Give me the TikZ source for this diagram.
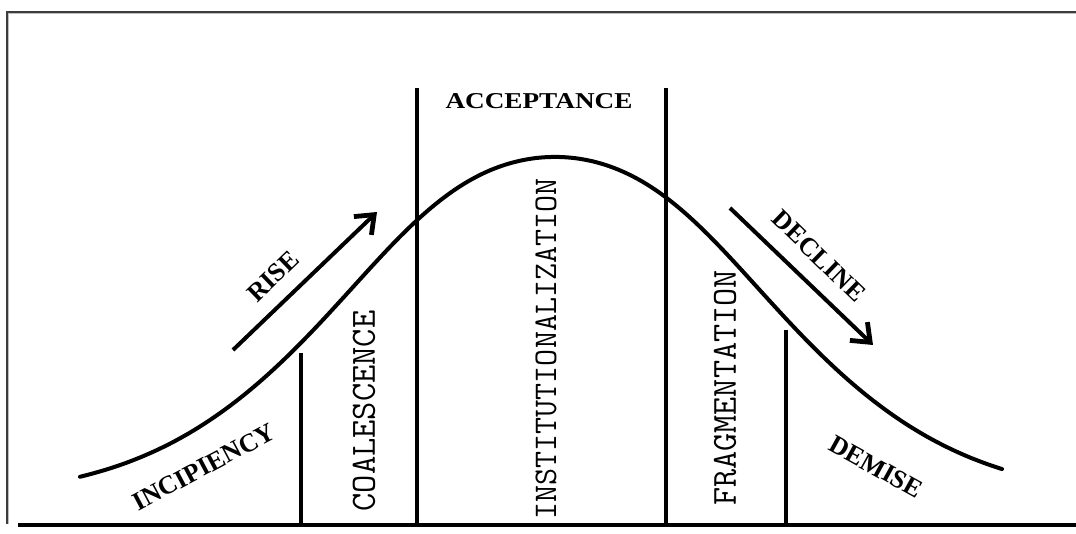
\documentclass[tikz,border=0pt]{standalone}
\usepackage{fontspec}
\setmainfont{Liberation Serif}
\usetikzlibrary{arrows.meta}
\definecolor{framecol}{RGB}{60,60,60}
\begin{document}
\begin{tikzpicture}[x=0.75pt,y=-0.75pt,
  curve/.style={line width=3pt, line cap=round},
  divider/.style={line width=3pt},
  ground/.style={line width=3.6pt},
  phase/.style={font=\bfseries\fontsize{19.5}{19.5}\selectfont, inner sep=0pt},
  stage/.style={inner sep=0pt, rotate=90},
  trend/.style={line width=3pt, -{Straight Barb[length=12pt,width=19pt,line width=3.6pt]}},
  declare function={sig(\d)=200+35*exp(-(\d/150)*(\d/150));
                    bell(\x)=157+340*(1-exp(-0.5*((\x-555)/sig(\x-555))*((\x-555)/sig(\x-555))));},
]
\useasboundingbox (0,0) rectangle (1076,534);
% frame
\draw[gray!50, line width=1pt] (1076,13.5) -- (8.5,13.5) -- (8.5,524);
\draw[framecol, line width=1.3pt] (1076,12) -- (7,12) -- (7,524);
% coordinates
\coordinate (g0) at (18,525);
\coordinate (g1) at (1076,525);
\coordinate (a1) at (301,353); \coordinate (b1) at (301,525);
\coordinate (a2) at (417,88);  \coordinate (b2) at (417,525);
\coordinate (a3) at (666,88);  \coordinate (b3) at (666,525);
\coordinate (a4) at (786,330); \coordinate (b4) at (786,525);
\coordinate (r0) at (233,350); \coordinate (r1) at (377,212);
\coordinate (d0) at (730,208); \coordinate (d1) at (873,345);
% ground line
\draw[ground] (g0) -- (g1);
% dividers
\draw[divider] (a1) -- (b1);
\draw[divider] (a2) -- (b2);
\draw[divider] (a3) -- (b3);
\draw[divider] (a4) -- (b4);
% bell curve
\draw[curve] plot[domain=80:1002, samples=120, smooth] (\x, {bell(\x)});
% trend arrows
\draw[trend] (r0) -- (r1);
\draw[trend] (d0) -- (d1);
% labels
\node[phase] (acc) at (539,101) {\fontsize{17}{17}\selectfont\scalebox{1.2}[1]{ACCEPTANCE}};
\node[phase, rotate=44] (rise) at (273,276) {RISE};
\node[phase, rotate=-44] (decl) at (819,256) {DECLINE};
\node[phase, rotate=28] (inc) at (204,467) {INCIPIENCY};
\node[phase, rotate=-29] (dem) at (876,467) {DEMISE};
\node[stage, font=\ttfamily\fontsize{26.6}{26.6}\selectfont] (coal) at (364,411) {COALESCENCE};
\node[stage, font=\ttfamily\fontsize{24.8}{24.8}\selectfont] (inst) at (546,349) {INSTITUTIONALIZATION};
\node[stage, font=\ttfamily\fontsize{26.4}{26.4}\selectfont] (frag) at (725,388) {FRAGMENTATION};
\end{tikzpicture}
\end{document}
